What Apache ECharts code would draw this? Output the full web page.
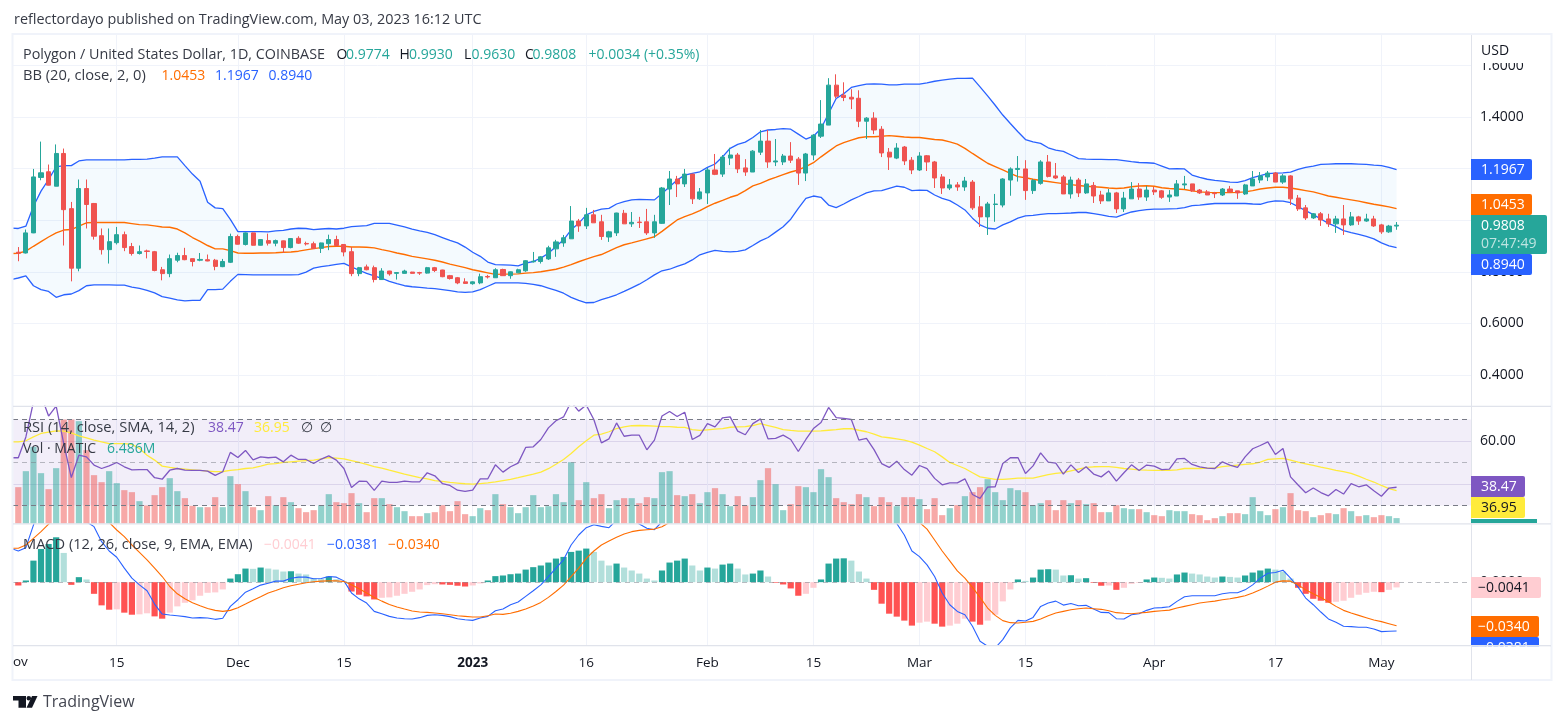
<!DOCTYPE html>
<html><head><meta charset="utf-8">
<style>html,body{margin:0;padding:0;background:#fff}#c{width:1562px;height:724px}</style>
<script src="https://cdn.jsdelivr.net/npm/echarts@6/dist/echarts.min.js"></script>
</head><body><div id="c"></div>
<script>
// Day index 0 = 1 Nov 2022, last value = 3 May 2023
const tickDays=[14,30,44,61,76,92,106,120,134,151,167,181];
const tickLabels=['15','Dec','15','2023','16','Feb','15','Mar','15','Apr','17','May'];
const priceTicks=[0.4,0.6,0.8,1.0,1.2,1.4,1.6];
// [open, close, low, high]
const candles=[
[.899,.876,.873,.906],[.876,.872,.841,.896],[.873,.951,.871,.964],[.951,1.168,.950,1.199],[1.166,1.184,1.155,1.305],[1.188,1.136,1.135,1.216],[1.132,1.259,1.132,1.294],[1.259,1.041,.902,1.278],[1.045,.814,.763,1.071],[.814,1.123,.802,1.158],
[1.123,1.061,.968,1.158],[1.065,.938,.925,1.067],[.940,.886,.867,.968],[.886,.917,.832,.968],[.913,.944,.906,.974],[.944,.894,.880,.956],[.898,.871,.863,.912],[.871,.878,.867,.902],[.881,.879,.852,.886],[.878,.805,.802,.881],
[.808,.793,.767,.819],[.793,.851,.779,.867],[.845,.863,.837,.874],[.863,.847,.845,.893],[.851,.840,.821,.851],[.845,.848,.841,.873],[.847,.842,.841,.867],[.845,.821,.806,.850],[.820,.840,.818,.850],[.837,.937,.834,.948],
[.937,.907,.906,.944],[.906,.951,.902,.953],[.951,.903,.902,.952],[.903,.925,.902,.926],[.921,.911,.902,.948],[.911,.921,.899,.925],[.920,.894,.873,.921],[.894,.929,.891,.931],[.930,.911,.908,.938],[.910,.908,.902,.917],
[.909,.890,.889,.917],[.891,.912,.873,.913],[.909,.925,.884,.944],[.925,.902,.899,.940],[.906,.877,.860,.906],[.878,.793,.783,.896],[.793,.816,.783,.819],[.819,.808,.806,.828],[.816,.770,.759,.824],[.770,.803,.769,.814],
[.803,.792,.785,.804],[.794,.797,.770,.798],[.794,.803,.793,.808],[.799,.794,.793,.800],[.797,.795,.788,.800],[.795,.816,.793,.819],[.816,.805,.799,.819],[.807,.781,.779,.808],[.785,.774,.770,.788],[.777,.757,.752,.780],[.761,.755,.754,.775],
[.754,.761,.750,.763],[.757,.781,.752,.793],[.782,.780,.774,.788],[.777,.808,.776,.814],[.809,.785,.785,.812],[.785,.800,.773,.801],[.796,.808,.795,.812],[.804,.843,.800,.845],[.839,.841,.836,.877],[.840,.858,.832,.861],
[.850,.893,.846,.901],[.889,.916,.858,.924],[.912,.932,.897,.943],[.928,.997,.928,1.055],[.997,.978,.955,1.005],[.978,1.021,.966,1.048],[1.021,.990,.990,1.040],[.994,.937,.924,1.021],[.935,.955,.916,.959],[.951,1.028,.939,1.029],
[1.027,.986,.986,1.040],[.986,.992,.974,1.032],[.993,.991,.970,1.013],[.994,.951,.943,1.044],[.951,.994,.932,1.021],[.988,1.125,.986,1.129],[1.121,1.160,1.059,1.191],[1.160,1.141,1.090,1.172],[1.141,1.179,1.129,1.199],[1.179,1.083,1.063,1.179],[1.083,1.110,1.079,1.125],
[1.106,1.195,1.063,1.203],[1.195,1.178,1.175,1.257],[1.179,1.245,1.168,1.253],[1.241,1.253,1.214,1.281],[1.253,1.199,1.183,1.261],[1.203,1.187,1.172,1.237],[1.187,1.268,1.187,1.272],[1.264,1.307,1.253,1.350],[1.307,1.226,1.203,1.350],[1.226,1.230,1.210,1.315],
[1.226,1.249,1.214,1.257],[1.249,1.233,1.222,1.303],[1.237,1.183,1.137,1.245],[1.183,1.257,1.152,1.261],[1.253,1.330,1.233,1.334],[1.326,1.373,1.319,1.466],[1.369,1.524,1.369,1.551],[1.524,1.481,1.473,1.566],[1.485,1.476,1.462,1.535],[1.477,1.470,1.431,1.508],
[1.473,1.384,1.361,1.504],[1.384,1.396,1.315,1.400],[1.396,1.350,1.334,1.419],[1.353,1.261,1.245,1.365],[1.264,1.245,1.195,1.280],[1.241,1.280,1.237,1.299],[1.284,1.230,1.214,1.288],[1.233,1.195,1.179,1.245],
[1.195,1.249,1.191,1.264],[1.250,1.226,1.191,1.253],[1.226,1.164,1.125,1.230],[1.168,1.125,1.102,1.179],[1.125,1.137,1.117,1.160],[1.137,1.129,1.114,1.148],[1.129,1.152,1.114,1.168],[1.148,1.048,1.040,1.156],[1.052,1.013,.974,1.094],[1.013,1.063,.943,1.071],[1.061,1.063,.994,1.102],
[1.059,1.160,1.050,1.163],[1.156,1.199,1.095,1.205],[1.197,1.201,1.150,1.249],[1.199,1.115,1.079,1.233],[1.115,1.154,1.102,1.160],[1.143,1.226,1.138,1.233],[1.226,1.170,1.166,1.253],[1.172,1.164,1.160,1.222],[1.168,1.102,1.102,1.175],[1.102,1.156,1.084,1.169],
[1.156,1.106,1.090,1.164],[1.106,1.141,1.102,1.160],[1.135,1.094,1.067,1.148],[1.098,1.075,1.063,1.114],[1.075,1.106,1.075,1.121],[1.106,1.044,1.028,1.110],[1.044,1.086,1.032,1.110],[1.083,1.121,1.083,1.148],[1.121,1.090,1.079,1.144],[1.090,1.117,1.075,1.133],
[1.117,1.110,1.098,1.129],[1.114,1.089,1.083,1.117],[1.090,1.098,1.071,1.117],[1.094,1.141,1.094,1.156],[1.137,1.141,1.121,1.172],[1.141,1.114,1.110,1.141],[1.117,1.106,1.102,1.121],[1.110,1.098,1.098,1.117],[1.105,1.103,1.086,1.110],[1.098,1.121,1.094,1.125],
[1.121,1.110,1.106,1.133],[1.114,1.106,1.083,1.114],[1.102,1.137,1.098,1.141],[1.133,1.160,1.133,1.191],[1.156,1.172,1.144,1.187],[1.168,1.183,1.152,1.191],[1.183,1.148,1.148,1.187],[1.148,1.172,1.141,1.179],[1.172,1.083,1.059,1.175],[1.086,1.044,1.036,1.098],
[1.048,1.009,1.001,1.059],[1.009,1.025,1.005,1.028],[1.025,1.001,.978,1.032],[1.005,.986,.974,1.025],[.986,1.005,.951,1.017],[1.005,.982,.943,1.059],[.982,1.013,.978,1.032],[1.013,.997,.982,1.017],[.997,1.005,.994,1.025],[1.005,.978,.974,1.017],
[.982,.955,.947,.986],[.955,.9774,.951,.982],[.9774,.9808,.963,.993]];
const bbUpper=[.970,.968,.977,1.054,1.113,1.158,1.207,1.212,1.212,1.230,1.234,1.234,1.234,1.234,1.234,1.234,1.236,1.236,1.237,1.241,1.246,1.246,1.246,1.212,1.179,1.151,1.070,1.048,1.045,1.003,
.956,.956,.956,.956,.955,.959,.961,.966,.969,.968,.964,.966,.968,.966,.969,.975,.977,.979,.988,.988,.988,.981,.974,.966,.959,.953,.944,.933,.922,.912,.896,
.876,.860,.838,.828,.827,.826,.823,.834,.840,.853,.872,.898,.924,.963,.988,1.021,1.034,1.043,1.046,1.063,1.072,1.079,1.081,1.080,1.079,1.104,1.130,1.156,1.175,1.182,1.188,
1.205,1.218,1.246,1.279,1.294,1.303,1.321,1.343,1.350,1.352,1.355,1.353,1.334,1.315,1.326,1.356,1.414,1.472,1.491,1.515,1.522,1.528,1.529,1.528,1.525,1.525,1.528,1.528,
1.528,1.533,1.539,1.543,1.547,1.550,1.550,1.551,1.517,1.482,1.446,1.408,1.375,1.343,1.313,1.304,1.298,1.281,1.272,1.267,1.253,1.239,1.237,1.236,1.236,1.235,1.235,1.231,1.227,1.224,1.223,
1.221,1.210,1.199,1.200,1.199,1.175,1.166,1.159,1.155,1.152,1.148,1.147,1.154,1.165,1.173,1.181,1.183,1.184,1.187,1.197,1.205,1.210,1.217,1.218,1.219,1.219,1.219,1.218,1.217,1.214,
1.212,1.205,1.1967];
const bbBasis=[.871,.872,.880,.899,.917,.935,.951,.962,.964,.977,.990,.991,.991,.991,.991,.991,.987,.983,.982,.978,.974,.973,.966,.951,.933,.918,.902,.889,.889,.882,
.873,.872,.872,.873,.873,.874,.876,.877,.880,.885,.890,.894,.898,.899,.899,.896,.896,.895,.893,.886,.880,.873,.867,.860,.855,.850,.845,.838,.830,.823,.816,
.808,.802,.796,.790,.791,.791,.792,.795,.797,.800,.805,.810,.818,.828,.839,.849,.859,.867,.880,.894,.905,.912,.920,.928,.936,.957,.979,1.001,1.014,1.025,1.037,
1.053,1.066,1.077,1.089,1.098,1.115,1.133,1.143,1.156,1.166,1.177,1.187,1.195,1.208,1.223,1.246,1.267,1.288,1.301,1.311,1.320,1.324,1.324,1.326,1.328,1.326,1.323,1.321,
1.321,1.317,1.313,1.311,1.304,1.295,1.279,1.259,1.240,1.221,1.208,1.195,1.182,1.169,1.165,1.159,1.154,1.150,1.146,1.142,1.138,1.135,1.132,1.130,1.128,1.125,1.123,1.125,1.130,1.133,1.134,
1.132,1.126,1.123,1.121,1.119,1.114,1.110,1.108,1.107,1.107,1.107,1.108,1.110,1.115,1.121,1.125,1.128,1.128,1.125,1.120,1.115,1.110,1.102,1.094,1.089,1.084,1.079,1.074,1.068,1.062,
1.057,1.052,1.0453];
const bbLower=[.770,.776,.784,.746,.731,.724,.701,.711,.714,.727,.746,.749,.749,.749,.748,.748,.741,.736,.728,.718,.704,.698,.691,.687,.689,.689,.731,.731,.733,.763,
.790,.789,.788,.788,.788,.788,.788,.788,.789,.799,.814,.820,.824,.829,.833,.819,.806,.794,.784,.775,.763,.754,.746,.742,.740,.737,.735,.731,.727,.722,.720,
.722,.731,.744,.757,.757,.757,.757,.755,.751,.746,.737,.728,.717,.701,.689,.680,.681,.692,.701,.711,.724,.738,.752,.769,.788,.804,.810,.821,.831,.846,.866,
.875,.883,.879,.877,.879,.885,.902,.920,.933,.954,.975,1.004,1.046,1.085,1.094,1.089,1.059,1.049,1.063,1.079,1.092,1.106,1.114,1.115,1.124,1.132,1.128,1.115,
1.117,1.116,1.098,1.085,1.076,1.059,1.040,1.008,.982,.969,.966,.982,.994,1.008,1.017,1.019,1.023,1.026,1.026,1.027,1.028,1.030,1.030,1.026,1.021,1.015,1.012,1.023,1.032,1.037,1.041,
1.043,1.043,1.044,1.045,1.049,1.057,1.059,1.062,1.065,1.065,1.065,1.065,1.065,1.063,1.062,1.070,1.075,1.074,1.068,1.053,1.037,1.022,1.005,.988,.975,.960,.952,.945,.937,.928,
.912,.901,.894];
const rsi=[52.2,52.2,61.9,78.2,81.3,71.6,76.2,58.8,43.0,53.4,52.6,48.8,47.2,48.4,50.0,48.0,46.6,46.7,46.7,42.9,42.2,46.4,47.2,46.4,46.3,46.3,46.0,44.0,45.7,54.7,
52.3,55.6,51.2,52.6,52.2,52.5,50.3,53.4,51.4,51.4,49.5,51.6,53.1,51.1,47.2,38.4,41.3,41.2,37.0,41.3,40.7,40.7,41.3,41.0,41.0,45.2,43.8,40.2,39.3,37.1,36.5,
37.1,42.4,42.4,48.9,45.5,48.0,49.7,57.0,57.3,60.7,66.1,69.4,71.2,78.2,73.9,76.7,70.0,59.1,61.0,68.4,62.2,62.7,62.7,55.9,60.4,71.6,73.7,71.4,73.4,60.7,62.6,
68.1,66.6,70.8,71.2,64.6,62.9,68.1,70.3,61.0,61.2,62.7,60.7,55.1,60.7,65.8,68.6,75.6,70.9,70.5,70.0,60.4,61.2,56.0,49.5,47.7,50.6,46.7,44.1,
48.6,47.1,42.6,39.6,40.5,40.5,42.4,35.1,33.3,38.5,38.7,49.5,52.2,52.3,44.9,48.4,54.5,50.2,49.7,44.6,48.9,45.3,48.0,44.6,43.3,46.0,41.3,45.2,48.9,46.3,48.8,
48.3,46.7,46.9,51.7,51.9,49.1,48.0,47.4,47.2,50.3,48.8,47.7,52.6,56.4,57.9,59.6,53.7,56.5,43.3,39.5,35.9,38.1,36.0,34.5,37.4,35.3,40.2,38.7,39.6,36.8,
34.3,38.1,38.47];
const rsiSma=[59.6,59.6,60.1,61.9,63.5,64.1,64.7,64.6,63.8,62.4,61.5,60.4,59.6,58.8,58.8,58.8,58.4,56.5,53.4,51.1,48.3,47.7,47.2,46.9,46.6,46.3,46.0,45.7,45.8,46.3,
46.7,47.2,47.5,48.3,49.2,49.5,50.0,50.3,50.6,50.9,51.1,51.7,52.3,52.0,51.7,50.9,50.0,49.1,48.1,47.4,46.4,45.5,44.6,43.8,43.0,42.4,41.6,41.2,40.7,40.4,40.1,
39.9,40.2,40.5,41.0,41.6,42.1,42.9,43.8,44.6,45.5,47.1,49.2,51.4,54.2,57.3,60.1,62.7,63.2,64.3,65.8,66.6,67.1,67.2,67.1,66.9,66.7,66.7,66.4,66.3,65.3,64.9,
65.2,65.5,65.8,66.4,66.6,66.7,67.2,68.1,67.2,66.3,65.3,64.9,64.6,64.6,64.6,64.7,65.0,65.3,65.7,65.8,65.0,64.3,63.2,61.9,61.5,61.0,60.4,59.5,
58.1,56.5,55.0,52.6,50.0,48.6,47.2,45.2,43.3,42.7,42.1,42.1,42.4,42.7,42.7,42.7,43.5,44.3,44.9,45.3,46.1,46.9,47.7,48.0,48.1,48.1,47.7,47.2,46.9,46.6,46.4,
46.3,46.3,46.3,46.6,47.2,47.2,47.2,47.4,47.4,48.1,48.4,48.8,49.1,49.4,50.2,51.4,51.7,51.9,51.1,50.2,49.4,48.6,47.8,47.1,46.3,45.7,44.9,43.6,42.2,40.9,
39.3,37.8,36.95];
// volume, millions of MATIC
const volume=[40,43.6,62.8,92,60.4,41.2,66.4,124.8,124.8,122.8,88,58,49.6,62.8,48.4,40,37.6,26.8,21.6,34,43.6,54.4,38.8,30.4,21.2,19.6,19.6,31.6,19.6,56.8,
47.2,38.8,19.6,16,32.8,22,31.6,25.6,18.4,13.6,16,22,35.2,25.6,24.4,36.4,24.4,13.6,30.4,30.4,23.2,19.6,14.8,8.8,8.8,12.4,13.6,22,14.8,26.8,11.2,
8.8,18.4,16,35.2,23.2,19.6,12.4,19.6,34,19.6,20.8,35.2,25.6,73.6,28,49.6,30.4,35.2,18.4,28,30.4,30.4,24.4,31.6,30.4,61.6,62.8,34,32.8,35.2,24.4,
37.6,42.4,35.2,20.8,32.8,21.6,31.6,52,66.4,47.2,16,23.2,44.8,43.6,37.6,65.2,55.6,30.4,25.6,23.2,35.2,31.6,20.8,31.6,25.6,20.8,31.6,31.6,
29.2,17.2,30.4,10,18.4,22,32.8,37.6,43.6,53.2,37.6,28,42.4,40,37.6,22,24.4,28,16,28,24.4,28,23.2,24.4,13.6,13.6,22,18.4,17.2,17.2,13.6,
10,8.8,16,14.8,14.8,11.2,10,4,6.4,8.8,12.4,12.4,11.2,31.6,14.8,10,17.2,19.6,36.4,16,14.8,7.6,10,12.4,11.2,18.4,14.8,8.8,10,7.6,
10,8.8,6.486];
const macdHist=[-.0008,-.0026,.0013,.0168,.0259,.0298,.0350,.0228,-.0021,.0039,.0021,-.0091,-.0181,-.0215,-.0212,-.0238,-.0254,-.0251,-.0243,-.0267,-.0285,-.0238,-.0189,-.0161,-.0142,-.0106,-.0083,-.0080,-.0057,.0028,
.0062,.0106,.0104,.0114,.0106,.0098,.0083,.0085,.0067,.0060,.0031,.0026,.0044,.0023,.0008,-.0073,-.0098,-.0111,-.0135,-.0122,-.0119,-.0106,-.0091,-.0075,-.0057,-.0023,-.0016,-.0018,-.0021,-.0028,-.0034,
-.0026,-.0010,.0013,.0047,.0052,.0062,.0067,.0098,.0117,.0130,.0153,.0184,.0197,.0236,.0246,.0262,.0236,.0168,.0130,.0145,.0114,.0091,.0067,.0028,.0013,.0091,.0153,.0168,.0184,.0130,.0091,
.0114,.0106,.0137,.0145,.0106,.0060,.0067,.0091,.0044,-.0005,-.0018,-.0049,-.0106,-.0091,-.0044,.0021,.0145,.0184,.0186,.0168,.0083,.0028,-.0060,-.0168,-.0246,-.0269,-.0300,-.0339,
-.0316,-.0308,-.0324,-.0347,-.0339,-.0324,-.0285,-.0308,-.0332,-.0300,-.0254,-.0150,-.0057,.0021,.0010,.0036,.0098,.0101,.0098,.0052,.0054,.0028,.0031,-.0005,-.0028,-.0026,-.0060,-.0044,-.0013,-.0005,.0021,
.0036,.0034,.0028,.0060,.0075,.0067,.0060,.0044,.0036,.0044,.0041,.0036,.0052,.0075,.0091,.0106,.0098,.0083,.0028,-.0044,-.0091,-.0130,-.0145,-.0161,-.0153,-.0145,-.0122,-.0098,-.0083,-.0075,
-.0078,-.0060,-.0041];
const macdLine=[.0264,.0243,.0269,.0445,.0601,.0704,.0782,.0730,.0653,.0601,.0471,.0433,.0316,.0243,.0194,.0109,.0031,-.0021,-.0067,-.0171,-.0249,-.0256,-.0262,-.0269,-.0280,-.0277,-.0280,-.0290,-.0282,-.0189,
-.0137,-.0078,-.0052,-.0023,-.0008,.0008,.0008,.0031,.0039,.0039,.0026,.0028,.0044,.0039,.0010,-.0085,-.0130,-.0163,-.0228,-.0246,-.0267,-.0280,-.0285,-.0287,-.0277,-.0259,-.0254,-.0259,-.0269,-.0285,-.0293,
-.0298,-.0280,-.0267,-.0223,-.0210,-.0176,-.0155,-.0111,-.0067,-.0021,.0044,.0109,.0174,.0290,.0368,.0425,.0448,.0435,.0425,.0484,.0523,.0523,.0453,.0420,.0409,.0471,.0536,.0588,.0627,.0601,.0575,
.0740,.0759,.0816,.0850,.0837,.0803,.0824,.0868,.0832,.0782,.0769,.0725,.0642,.0634,.0668,.0738,.0896,.0979,.1031,.1054,.0989,.0940,.0839,.0691,.0549,.0458,.0368,.0243,
.0199,.0135,.0044,-.0085,-.0176,-.0228,-.0254,-.0344,-.0461,-.0500,-.0513,-.0448,-.0357,-.0298,-.0303,-.0275,-.0189,-.0163,-.0148,-.0179,-.0166,-.0184,-.0181,-.0210,-.0236,-.0238,-.0285,-.0287,-.0254,-.0246,-.0220,
-.0202,-.0199,-.0192,-.0150,-.0114,-.0106,-.0106,-.0106,-.0106,-.0091,-.0083,-.0083,-.0060,-.0021,.0031,.0070,.0075,.0093,.0031,-.0039,-.0124,-.0176,-.0233,-.0287,-.0313,-.0344,-.0347,-.0352,-.0352,-.0365,
-.0386,-.0383,-.0381];
const macdSignal=[.0264,.0264,.0290,.0342,.0394,.0453,.0523,.0575,.0601,.0575,.0523,.0510,.0484,.0466,.0407,.0355,.0290,.0233,.0174,.0109,.0044,-.0034,-.0091,-.0130,-.0161,-.0184,-.0205,-.0220,-.0228,-.0220,
-.0199,-.0171,-.0142,-.0114,-.0085,-.0065,-.0044,-.0028,-.0016,-.0005,.0003,.0008,.0010,.0010,.0005,-.0021,-.0052,-.0085,-.0119,-.0148,-.0174,-.0194,-.0210,-.0225,-.0233,-.0236,-.0241,-.0246,-.0254,-.0262,-.0267,
-.0272,-.0272,-.0262,-.0249,-.0251,-.0243,-.0228,-.0210,-.0186,-.0158,-.0119,-.0073,-.0023,.0044,.0109,.0186,.0243,.0290,.0321,.0350,.0376,.0394,.0404,.0409,.0414,.0433,.0466,.0497,.0536,.0575,.0601,
.0627,.0653,.0679,.0704,.0730,.0743,.0756,.0777,.0787,.0787,.0782,.0774,.0749,.0725,.0712,.0717,.0751,.0795,.0847,.0886,.0906,.0912,.0899,.0860,.0795,.0730,.0601,.0523,
.0466,.0414,.0329,.0243,.0166,.0088,.0031,-.0041,-.0119,-.0202,-.0259,-.0300,-.0316,-.0319,-.0313,-.0306,-.0287,-.0262,-.0241,-.0228,-.0215,-.0207,-.0202,-.0207,-.0212,-.0223,-.0238,-.0243,-.0246,-.0241,-.0236,
-.0228,-.0223,-.0218,-.0202,-.0189,-.0176,-.0163,-.0155,-.0148,-.0137,-.0130,-.0119,-.0106,-.0085,-.0060,-.0031,0,.0010,.0008,-.0021,-.0060,-.0091,-.0119,-.0153,-.0189,-.0220,-.0241,-.0259,-.0277,-.0295,
-.0308,-.0324,-.0340];

const FONT="'Open Sans'";
const UP='#26A69A',DOWN='#EF5350',BLUE='#2962FF',ORANGE='#FF6D00',PURPLE='#7E57C2',YELLOW='#FFEB3B',INK='#131722',GRID='#F0F3FA',EDGE='#E0E3EB';
const pts=a=>a.map((v,i)=>[i,v]);
const xMin=0.3,xMax=192.83;
const LEFT=13,RIGHT=1562-1471;
const xAxisBase=(gi,labels)=>({type:'value',gridIndex:gi,min:xMin,max:xMax,
  axisLine:{show:false},
  axisTick:{show:false,customValues:tickDays},
  splitLine:{show:true,lineStyle:{color:GRID,width:1}},
  axisLabel:labels?{show:true,customValues:tickDays,margin:11,fontFamily:FONT,fontSize:13.5,color:INK,
    formatter:v=>{const s=tickLabels[tickDays.indexOf(v)];return s==='2023'?'{b|2023}':s;},
    rich:{b:{fontWeight:'bold',fontFamily:FONT,fontSize:13.5,color:INK}}}:{show:false}});
const histColor=p=>{const i=p.value[0],c=macdHist[i],q=i?macdHist[i-1]:c;
  return c>=0?(c>=q?UP:'#B2DFDB'):(c>=q?'#FFCDD2':'#FF5252');};
const line=(name,x,y,data,color,width,z)=>({name,type:'line',xAxisIndex:x,yAxisIndex:y,data:pts(data),showSymbol:false,symbol:'none',
  lineStyle:{color,width},itemStyle:{color},z:z||3,silent:true,animation:false});
// the band between the two Bollinger lines, one polygon through the library's own coordinates
const bandItem=(params,api)=>{
  if(params.dataIndex!==0) return null;
  const up=bbUpper.map((v,i)=>api.coord([i,v]));
  const lo=bbLower.map((v,i)=>api.coord([i,v])).reverse();
  const c=params.coordSys;
  return {type:'polygon',shape:{points:echarts.graphic.clipPointsByRect(up.concat(lo),{x:c.x,y:c.y,width:c.width,height:c.height})},
    style:{fill:'rgba(33,150,243,0.05)'},silent:true};
};
const option={
  animation:false,backgroundColor:'#fff',tooltip:{show:false},
  grid:[
   {left:LEFT,right:RIGHT,top:35,height:371},
   {left:LEFT,right:RIGHT,top:406.5,height:117},
   {left:LEFT,right:RIGHT,top:524,height:121.3}],
  xAxis:[xAxisBase(0,false),xAxisBase(1,false),xAxisBase(2,true)],
  yAxis:[
   {type:'value',gridIndex:0,position:'right',min:.2796,max:1.7184,axisLine:{show:false},axisTick:{show:false,customValues:priceTicks},
    splitLine:{lineStyle:{color:GRID}},axisLabel:{customValues:priceTicks,margin:9,padding:[4,0,0,0],fontFamily:FONT,fontSize:14,color:INK,formatter:v=>v.toFixed(4)}},
   {type:'value',gridIndex:1,position:'right',min:21.6,max:76.05,axisLine:{show:false},axisTick:{show:false,customValues:[40,60]},
    splitLine:{lineStyle:{color:'#E6E2F0'}},axisLabel:{customValues:[40,60],margin:9,padding:[4,0,0,0],fontFamily:FONT,fontSize:14,color:INK,formatter:v=>v.toFixed(2)}},
   {type:'value',gridIndex:1,position:'right',min:0,max:140.4,show:false,splitLine:{show:false}},
   {type:'value',gridIndex:2,position:'right',min:-.04926,max:.04537,axisLine:{show:false},axisTick:{show:false,customValues:[0]},
    splitLine:{show:false},axisLabel:{customValues:[0],margin:9,fontFamily:FONT,fontSize:14,color:INK,formatter:v=>v.toFixed(4)}}],
  series:[
   {name:'BB band',type:'custom',xAxisIndex:0,yAxisIndex:0,data:pts(bbUpper),renderItem:bandItem,z:1,silent:true,encode:{x:0,y:1}},
   line('BB lower',0,0,bbLower,BLUE,1.3,2),
   line('BB upper',0,0,bbUpper,BLUE,1.3,2),
   line('BB basis',0,0,bbBasis,ORANGE,1.4,2),
   {name:'Polygon',type:'candlestick',xAxisIndex:0,yAxisIndex:0,barWidth:4.6,z:4,silent:true,
     data:candles.map((c,i)=>[i,c[0],c[1],c[2],c[3]]),
     itemStyle:{color:UP,color0:DOWN,borderColor:UP,borderColor0:DOWN,borderWidth:1}},
   {name:'rsiBand',type:'line',xAxisIndex:1,yAxisIndex:1,data:[],z:1,silent:true,
     markArea:{silent:true,itemStyle:{color:'rgba(126,87,194,0.1)'},data:[[{yAxis:30},{yAxis:70}]]}},
   {name:'Vol',type:'bar',xAxisIndex:1,yAxisIndex:2,barWidth:6.2,z:2,silent:true,data:pts(volume).slice(1),
     itemStyle:{color:p=>{const c=candles[p.value[0]];return c[1]>=c[0]?'rgba(38,166,154,0.5)':'rgba(239,83,80,0.5)';}}},
   line('RSI SMA',1,1,rsiSma,YELLOW,1.3,3),
   Object.assign(line('RSI',1,1,rsi,PURPLE,1.3,4),{
     markLine:{silent:true,symbol:'none',label:{show:false},animation:false,data:[
       {yAxis:70,lineStyle:{color:'#787B86',type:[5,4],width:1}},
       {yAxis:50,lineStyle:{color:'rgba(120,123,134,0.5)',type:[5,4],width:1}},
       {yAxis:30,lineStyle:{color:'#787B86',type:[5,4],width:1}}]}}),
   {name:'zero',type:'line',xAxisIndex:2,yAxisIndex:3,data:[],z:1,silent:true,
     markLine:{silent:true,symbol:'none',label:{show:false},data:[{yAxis:0,lineStyle:{color:'rgba(120,123,134,0.5)',type:[5,4],width:1}}]}},
   {name:'Histogram',type:'bar',xAxisIndex:2,yAxisIndex:3,barWidth:6.2,z:2,silent:true,data:pts(macdHist).slice(1),itemStyle:{color:histColor}},
   line('MACD',2,3,macdLine,BLUE,1.1,3),
   line('Signal',2,3,macdSignal,ORANGE,1.1,3)
  ],
  graphic:{elements:[]}
};
const g=option.graphic.elements;
const T=(x,y,text,fill,size)=>g.push({type:'text',z:120,silent:true,style:{x,y:y+1,text,fill:fill||INK,font:(size||14)+"px "+FONT,verticalAlign:'middle',align:'left'}});
const R=(x,y,w,h,fill,r)=>g.push({type:'rect',z:110,silent:true,shape:{x,y,width:w,height:h,r:r||0},style:{fill}});
// frame and pane lines
g.push({type:'rect',z:105,silent:true,shape:{x:12.5,y:34,width:1539,height:646},style:{fill:'none',stroke:GRID,lineWidth:2}});
R(13,405.7,1538,1.3,EDGE);R(13,523.2,1538,1.2,EDGE);R(13,645,1538,1.3,EDGE);R(1471,35,1,645,EDGE);
// header
T(14,19,'reflectordayo published on TradingView.com, May 03, 2023 16:12 UTC','#363A45',14.4);
T(23,54,'Polygon / United States Dollar, 1D, COINBASE','#363A45',14.35);
[['O',336.5,INK],['0.9774',346,UP],['H',399.5,INK],['0.9930',409,UP],['L',464,INK],['0.9630',471.5,UP],['C',525,INK],['0.9808',532.6,UP],['+0.0034 (+0.35%)',588.6,UP]].forEach(a=>T(a[1],54,a[0],a[2]));
T(23,75,'BB (20, close, 2, 0)','#363A45',14.7);
T(161.6,75,'1.0453',ORANGE);T(215,75,'1.1967',BLUE);T(268.6,75,'0.8940',BLUE);
// RSI / Vol / MACD legends
T(23,427,'RSI (14, close, SMA, 14, 2)','#363A45',14.7);T(208,427,'38.47',PURPLE);T(254,427,'36.95',YELLOW);T(301,427,'∅','#363A45');T(320,427,'∅','#363A45');
T(23,448,'Vol · MATIC','#363A45');T(107,448,'6.486M',UP);
T(23,544,'MACD (12, 26, close, 9, EMA, EMA)','#363A45',14.6);T(264,544,'−0.0041','#FFCDD2');T(327,544,'−0.0381',BLUE);T(388,544,'−0.0340',ORANGE);
// price axis header
R(1472,36,78,27,'#fff');T(1481,50,'USD',INK);
// axis tags
const tx=1481,tw=61;
R(1471,159,tw,21,BLUE,[0,2,2,0]);T(tx,169.5,'1.1967','#fff');
R(1471,194,tw,21,ORANGE,[0,2,2,0]);T(tx,204.5,'1.0453','#fff');
R(1471,254,tw,21,BLUE,[0,2,2,0]);T(tx,264.5,'0.8940','#fff');
R(1471,215,76,39,UP,[0,2,2,0]);T(tx,225.5,'0.9808','#fff');T(tx,243,'07:47:49','rgba(255,255,255,0.7)');
R(1471,476,54,21,PURPLE,[0,2,2,0]);T(tx,486.5,'38.47','#fff');
R(1471,497,54,21,YELLOW,[0,2,2,0]);T(tx,507.5,'36.95',INK);
R(1471,519,66,4,UP);
R(1471,577,70,21,'#FFCDD2',[0,2,2,0]);T(1478,587.5,'−0.0041',INK);
R(1471,637,68,21,BLUE,[0,2,2,0]);T(1478,647.5,'−0.0381','#fff');
R(1471,616,68,21,ORANGE,[0,2,2,0]);T(1478,626.5,'−0.0340','#fff');
g.push({type:'rect',z:130,silent:true,shape:{x:1470.5,y:646.3,width:79.5,height:32},style:{fill:'#fff'}});
g.push({type:'rect',z:131,silent:true,shape:{x:1471,y:645,width:80,height:1.3},style:{fill:EDGE}});
g.push({type:'rect',z:131,silent:true,shape:{x:1471,y:645,width:1,height:35},style:{fill:EDGE}});
// clipped first month label
T(13,661,'ov',INK,13.5);
// footer logo
g.push({type:'polygon',z:120,silent:true,shape:{points:[[13,696],[26,696],[26,707.7],[18.5,707.7],[18.5,700.5],[13,700.5]]},style:{fill:INK}});
g.push({type:'circle',z:120,silent:true,shape:{cx:28.8,cy:698.3,r:2.3},style:{fill:INK}});
g.push({type:'polygon',z:120,silent:true,shape:{points:[[32,696],[37.5,696],[32,707.7],[26.5,707.7]]},style:{fill:INK}});
T(43,701.5,'TradingView','#434651',16);
const chart=echarts.init(document.getElementById('c'),null,{renderer:'canvas'});
chart.setOption(option);
</script></body></html>
